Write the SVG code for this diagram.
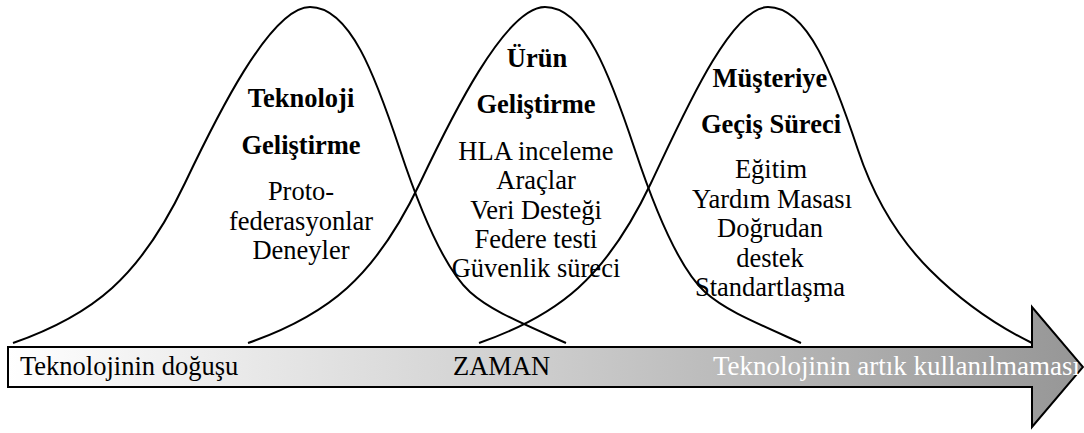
<svg xmlns="http://www.w3.org/2000/svg" xmlns:xlink="http://www.w3.org/1999/xlink" width="1084" height="433" viewBox="0 0 1084 433">
  <style>
    .bell { fill: none; stroke: #000; stroke-width: 2; stroke-linejoin: round; }
    .title { font-family: "Liberation Serif", "Times New Roman", serif; font-weight: bold; font-size: 26.5px; fill: #000; text-anchor: middle; }
    .item { font-family: "Liberation Serif", "Times New Roman", serif; font-size: 26.5px; fill: #000; text-anchor: middle; }
    .axis { font-family: "Liberation Serif", "Times New Roman", serif; font-size: 26.5px; }
  </style>
  <defs>
    <linearGradient id="timeFade" gradientUnits="userSpaceOnUse" x1="8" y1="0" x2="1083" y2="0">
      <stop offset="0" stop-color="#ffffff"/>
      <stop offset="0.45" stop-color="#d2d2d2"/>
      <stop offset="1" stop-color="#969696"/>
    </linearGradient>
    <!-- shared bell shape, drawn with its left foot at x=13 -->
    <path id="bellShape" d="M13,343 C93,315 140,277.5 185,183 C215,120 270,7 310,7 C350,7 375,75 400,150 C424,222 448,272 470,292 C490,310 517,321 566,343"/>
  </defs>

  <!-- time axis arrow -->
  <g id="timeline-arrow">
    <path d="M8,347 H1032 V307 L1083,367 L1032,427 V387 H8 Z" fill="url(#timeFade)" stroke="#000" stroke-width="2" stroke-linejoin="miter"/>
    <text class="axis" x="20" y="375" fill="#000">Teknolojinin doğuşu</text>
    <text class="axis" x="453" y="375" fill="#000">ZAMAN</text>
    <text class="axis" x="713" y="375" fill="#ffffff" style="font-size:27px">Teknolojinin artık kullanılmaması</text>
  </g>

  <!-- phase 1 -->
  <g id="phase-technology">
    <text class="title" x="301" y="107">Teknoloji</text>
    <text class="title" x="301" y="154">Geliştirme</text>
    <text class="item" x="301" y="200">Proto-</text>
    <text class="item" x="301" y="230">federasyonlar</text>
    <text class="item" x="301" y="259">Deneyler</text>
  </g>

  <!-- phase 2 -->
  <g id="phase-product">
    <text class="title" x="537" y="67">Ürün</text>
    <text class="title" x="536" y="113">Geliştirme</text>
    <text class="item" x="536" y="160">HLA inceleme</text>
    <text class="item" x="536" y="189.3">Araçlar</text>
    <text class="item" x="536" y="218.6">Veri Desteği</text>
    <text class="item" x="536" y="247.9">Federe testi</text>
    <text class="item" x="536" y="277.2">Güvenlik süreci</text>
  </g>

  <!-- phase 3 -->
  <g id="phase-transition">
    <text class="title" x="770" y="87">Müşteriye</text>
    <text class="title" x="771" y="133">Geçiş Süreci</text>
    <text class="item" x="771" y="178">Eğitim</text>
    <text class="item" x="772" y="207.5">Yardım Masası</text>
    <text class="item" x="770" y="237">Doğrudan</text>
    <text class="item" x="770" y="266.5">destek</text>
    <text class="item" x="770" y="296">Standartlaşma</text>
  </g>

  <!-- bell curves of the three phases -->
  <g id="connectors">
    <use xlink:href="#bellShape" href="#bellShape" class="bell"/>
    <use xlink:href="#bellShape" href="#bellShape" class="bell" x="235"/>
    <path class="bell" d="M479,343 C559,315 606,277.5 651,183 C681,120 730,7 768,7 C808,7 833,75 858,150 C876,204 903,243 930,270 C959,299 993,324 1032,343"/>
  </g>
</svg>
